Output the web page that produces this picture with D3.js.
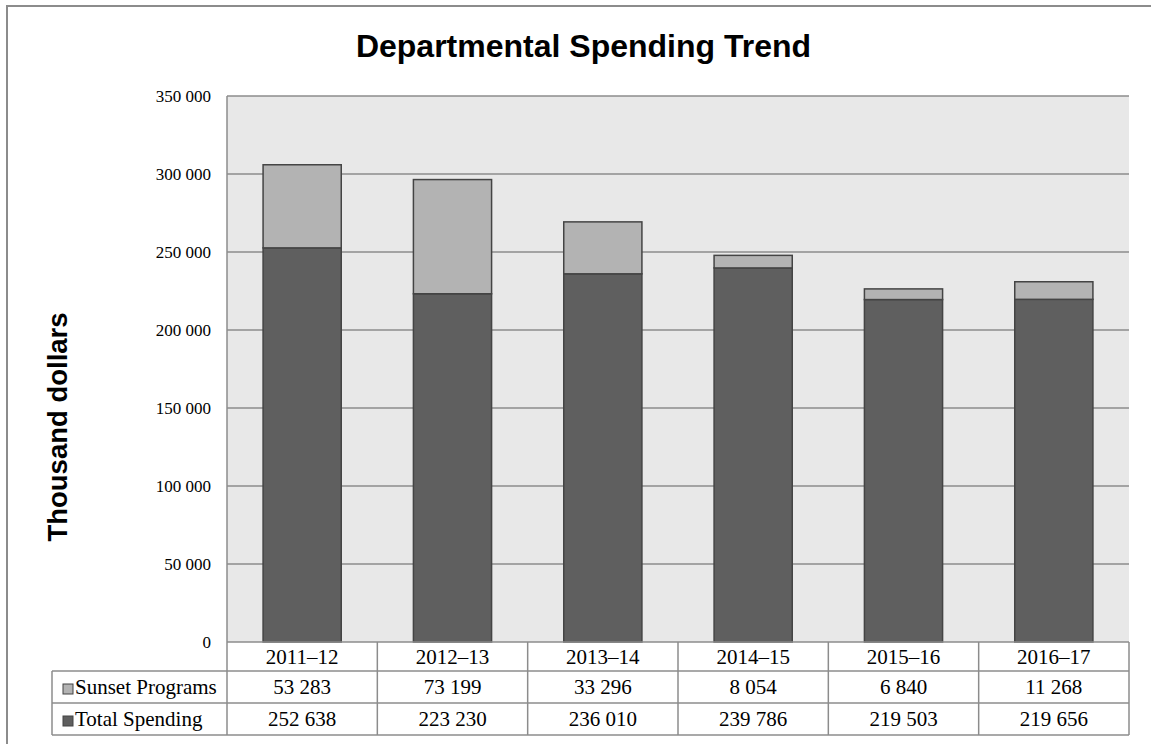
<!DOCTYPE html>
<html><head><meta charset="utf-8">
<script src="https://cdn.jsdelivr.net/npm/d3@7"></script>
<style>body{margin:0;background:#fff}svg{display:block}</style>
</head><body>
<svg id="c" width="1151" height="744"></svg>
<script>
const categories = ["2011–12","2012–13","2013–14","2014–15","2015–16","2016–17"];
const totalSpending = [252638,223230,236010,239786,219503,219656];
const sunsetPrograms = [53283,73199,33296,8054,6840,11268];
const yTicks = [0,50000,100000,150000,200000,250000,300000,350000];
const seriesNames = ["Sunset Programs","Total Spending"];

const svg = d3.select("#c");
const pL = 227, pR = 1129, pT = 96, pB = 642;
const fmt = d3.formatLocale({decimal:".", thousands:" ", grouping:[3], currency:["",""]}).format(",d");
const serif = "'Liberation Serif', 'Times New Roman', serif";
const sans = "'Liberation Sans', Arial, sans-serif";

// outer border
svg.append("rect").attr("x",7).attr("y",6).attr("width",1160).attr("height",760)
  .attr("fill","#fff").attr("stroke","#8c8c8c").attr("stroke-width",2);

const x = d3.scaleBand().domain(categories).range([pL,pR]).paddingInner(0.48).paddingOuter(0.24);
const y = d3.scaleLinear().domain([0,350000]).range([pB,pT]);

// plot bg
svg.append("rect").attr("x",pL).attr("y",pT).attr("width",pR-pL).attr("height",pB-pT)
  .attr("fill","#e8e8e8");

// gridlines
svg.append("g").selectAll("line").data(yTicks.filter(d=>d>0)).join("line")
  .attr("x1",pL).attr("x2",pR).attr("y1",d=>y(d)).attr("y2",d=>y(d))
  .attr("stroke","#8c8c8c").attr("stroke-width",1.5);
svg.append("line").attr("x1",pL).attr("x2",pL).attr("y1",pT).attr("y2",pB)
  .attr("stroke","#8c8c8c").attr("stroke-width",1.5);

// y axis labels
const yAxis = d3.axisLeft(y).tickValues(yTicks).tickFormat(fmt).tickSize(0).tickPadding(16);
const ga = svg.append("g").attr("transform",`translate(${pL},0)`).call(yAxis);
ga.select(".domain").remove();
ga.selectAll("text").attr("font-family",serif).attr("font-size",17).attr("fill","#000");

// stacked bars
const stackData = categories.map((c,i)=>({cat:c, total:totalSpending[i], sunset:sunsetPrograms[i]}));
const stack = d3.stack().keys(["total","sunset"])(stackData);
const colors = {total:"#5f5f5f", sunset:"#b3b3b3"};
svg.append("g").selectAll("g").data(stack).join("g")
  .attr("fill",d=>colors[d.key])
  .selectAll("rect").data(d=>d).join("rect")
  .attr("x",d=>x(d.data.cat)).attr("width",x.bandwidth())
  .attr("y",d=>y(d[1])).attr("height",d=>y(d[0])-y(d[1]))
  .attr("stroke","#444").attr("stroke-width",1.5);

// title
svg.append("text").attr("x",583.5).attr("y",57).attr("text-anchor","middle")
  .attr("font-family",sans).attr("font-weight","bold")
  .attr("font-size",32).text("Departmental Spending Trend");

// y title
svg.append("text").attr("transform","translate(67,427) rotate(-90)").attr("text-anchor","middle")
  .attr("font-family",sans).attr("font-weight","bold")
  .attr("font-size",27.5).text("Thousand dollars");

// data table
const rowH = [pB, 671, 703, 735];
const tLeft = 52;
const tg = svg.append("g");
const lineC = "#8c8c8c";
tg.append("line").attr("x1",pL).attr("x2",pR).attr("y1",rowH[0]).attr("y2",rowH[0]).attr("stroke",lineC).attr("stroke-width",1.5);
[1,2,3].forEach(i=>{
  tg.append("line").attr("x1",tLeft).attr("x2",pR).attr("y1",rowH[i]).attr("y2",rowH[i]).attr("stroke",lineC).attr("stroke-width",1.5);
});
tg.append("line").attr("x1",tLeft).attr("x2",tLeft).attr("y1",rowH[1]).attr("y2",rowH[3]).attr("stroke",lineC).attr("stroke-width",1.5);
const colEdges = categories.map(c=>x(c)-x.step()*x.paddingInner()/2).concat([pR]);
colEdges.forEach(cx=>{
  tg.append("line").attr("x1",cx).attr("x2",cx).attr("y1",rowH[0]).attr("y2",rowH[3]).attr("stroke",lineC).attr("stroke-width",1.5);
});
const cellSize = 21;
tg.selectAll("text.cat").data(categories).join("text").attr("class","cat")
  .attr("x",d=>x(d)+x.bandwidth()/2).attr("y",(rowH[0]+rowH[1])/2+7)
  .attr("text-anchor","middle").attr("font-family",serif).attr("font-size",cellSize).text(d=>d);
const rows = [sunsetPrograms,totalSpending];
rows.forEach((vals,ri)=>{
  const cy = (rowH[ri+1]+rowH[ri+2])/2;
  tg.selectAll("text.r"+ri).data(vals).join("text").attr("class","r"+ri)
    .attr("x",(d,i)=>x(categories[i])+x.bandwidth()/2).attr("y",cy+7)
    .attr("text-anchor","middle").attr("font-family",serif).attr("font-size",cellSize).text(d=>fmt(d));
  tg.append("rect").attr("x",63).attr("y",cy-3).attr("width",10).attr("height",10)
    .attr("fill",ri===0?colors.sunset:colors.total).attr("stroke","#444").attr("stroke-width",1);
  tg.append("text").attr("x",75).attr("y",cy+7).attr("font-family",serif).attr("font-size",cellSize)
    .text(seriesNames[ri]);
});
</script>
</body></html>
